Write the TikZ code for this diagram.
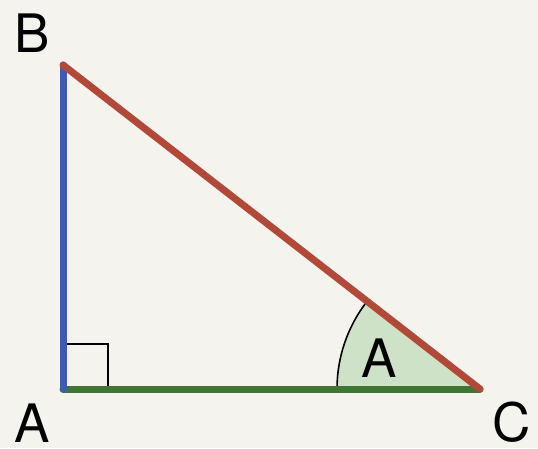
\documentclass[tikz,border=0pt]{standalone}
\usepackage{fontspec}
\setmainfont{TeX Gyre Heros}
\definecolor{bgc}{RGB}{244,243,238}
\definecolor{sideb}{RGB}{58,92,178}
\definecolor{sider}{RGB}{178,72,56}
\definecolor{sideg}{RGB}{62,118,50}
\definecolor{fillg}{RGB}{206,226,199}
\begin{document}
\begin{tikzpicture}[x=1pt,y=-1pt,
  side/.style={line width=7pt,line cap=round},
  thin/.style={line width=1.6pt,black},
  lab/.style={font=\fontsize{53}{60}\selectfont,inner sep=0pt,anchor=base}]
\fill[bgc] (0,0) rectangle (538,448);
\useasboundingbox (0,0) rectangle (538,448);
\coordinate (A) at (63,389);
\coordinate (B) at (63,65);
\coordinate (C) at (480,389);
% angle sector at C
\fill[fillg] (C) -- ++(180:143) arc[start angle=180,delta angle=37.85,radius=143] -- cycle;
\draw[thin] (C) ++(180:143) arc[start angle=180,delta angle=37.85,radius=143];
% right angle mark
\draw[thin] (63,344) -- (108,344) -- (108,389);
% sides
\draw[side,sideg] (A) -- (C);
\draw[side,sideb] (A) -- (B);
\draw[side,sider] (B) -- (C);
% labels
\node[lab] (lB) at (32,52) {B};
\node[lab] (lA) at (32,442) {A};
\node[lab] (lC) at (512,441) {C};
\node[lab] (lAng) at (379,377) {A};
\end{tikzpicture}
\end{document}
